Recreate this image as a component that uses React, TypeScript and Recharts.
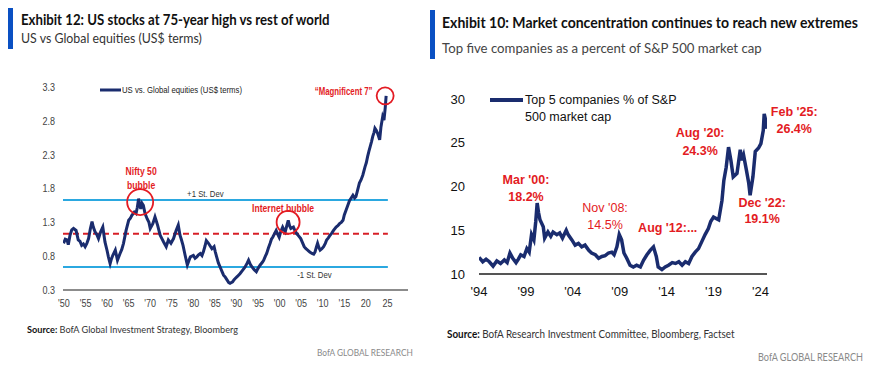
import React from "react";
import { Legend, Line, LineChart, ReferenceDot, ReferenceLine, XAxis, YAxis } from "recharts";

// Exhibit 12: US vs Global equities (US$ terms)
const usYears = [
    1949.9, 1950.3, 1950.7, 1951.0, 1951.4, 1951.8, 1952.2, 1952.8, 1953.3, 1953.7, 1954.1, 1954.5, 1954.9,
    1955.3, 1955.7, 1956.1, 1956.5, 1956.8, 1957.2, 1957.6, 1958.0, 1958.5, 1959.0, 1959.5, 1960.0, 1960.3,
    1960.7, 1961.0, 1961.3, 1961.9, 1962.4, 1963.0, 1963.4, 1963.8, 1964.4, 1965.0, 1965.4, 1965.7, 1966.3,
    1966.7, 1967.0, 1967.3, 1967.6, 1967.8, 1968.1, 1968.4, 1968.8, 1969.3, 1969.7, 1970.0, 1970.6, 1971.1,
    1971.4, 1971.7, 1972.3, 1972.7, 1973.1, 1973.7, 1974.2, 1974.8, 1975.4, 1976.0, 1976.5, 1976.9, 1977.2,
    1977.6, 1978.1, 1978.6, 1979.0, 1979.3, 1980.0, 1980.4, 1980.8, 1981.2, 1981.6, 1982.0, 1982.3, 1982.7,
    1983.0, 1983.5, 1983.9, 1984.3, 1984.8, 1985.1, 1985.4, 1985.8, 1986.2, 1986.6, 1987.0, 1987.4, 1987.8,
    1988.2, 1988.5, 1989.1, 1989.4, 1989.7, 1990.2, 1990.8, 1991.4, 1992.0, 1992.5, 1992.8, 1993.2, 1993.6,
    1994.1, 1994.6, 1995.0, 1995.5, 1996.0, 1996.3, 1996.7, 1997.0, 1997.4, 1997.8, 1998.1, 1998.4, 1998.8,
    1999.2, 1999.6, 1999.9, 2000.3, 2000.7, 2001.0, 2001.3, 2001.7, 2002.0, 2002.3, 2002.6, 2003.2, 2003.6,
    2004.0, 2004.4, 2004.9, 2005.3, 2005.7, 2006.1, 2006.5, 2007.0, 2007.5, 2007.9, 2008.2, 2008.5, 2008.8,
    2009.1, 2009.4, 2009.8, 2010.2, 2010.6, 2010.9, 2011.3, 2011.7, 2012.1, 2012.5, 2013.1, 2013.5, 2013.9,
    2014.3, 2014.7, 2015.0, 2015.4, 2015.8, 2016.2, 2016.6, 2017.0, 2017.4, 2017.7, 2018.1, 2018.5, 2018.9,
    2019.3, 2019.8, 2020.1, 2020.4, 2020.7, 2021.0, 2021.3, 2021.6, 2021.9, 2022.1, 2022.4, 2022.7, 2023.0,
    2023.2, 2023.5, 2023.9, 2024.2, 2024.5, 2024.7,
];
const usValues = [
    0.99, 1.05, 1.04, 0.97, 1.11, 1.19, 1.21, 1.18, 1.04, 1.02, 0.96, 0.98, 0.94,
    0.99, 1.06, 1.2, 1.31, 1.23, 1.16, 1.12, 1.06, 1.16, 1.23, 1.01, 0.88, 0.79,
    0.69, 0.76, 0.81, 0.89, 0.74, 0.84, 0.9, 0.99, 1.18, 1.33, 1.36, 1.4, 1.45,
    1.43, 1.52, 1.65, 1.55, 1.5, 1.58, 1.55, 1.43, 1.35, 1.3, 1.21, 1.28, 1.38,
    1.32, 1.26, 1.11, 1.06, 1.01, 0.94, 1.04, 0.99, 1.06, 1.18, 1.26, 1.11, 1.05,
    0.96, 0.81, 0.67, 0.74, 0.79, 0.81, 0.77, 0.79, 0.82, 0.84, 0.81, 0.86, 0.95,
    1.03, 0.99, 0.95, 0.91, 0.94, 0.86, 0.79, 0.7, 0.64, 0.58, 0.52, 0.49, 0.45,
    0.41, 0.4, 0.42, 0.45, 0.47, 0.5, 0.54, 0.59, 0.64, 0.7, 0.74, 0.68, 0.64,
    0.6, 0.57, 0.62, 0.67, 0.71, 0.74, 0.8, 0.84, 0.92, 0.99, 1.05, 1.08, 1.13,
    1.18, 1.12, 1.08, 1.17, 1.23, 1.19, 1.16, 1.26, 1.33, 1.25, 1.21, 1.23, 1.17,
    1.13, 1.1, 1.06, 1.0, 0.94, 0.91, 0.89, 0.86, 0.84, 0.83, 0.86, 0.93, 0.99,
    0.93, 0.89, 0.91, 0.94, 0.99, 1.04, 1.07, 1.11, 1.14, 1.18, 1.23, 1.25, 1.28,
    1.3, 1.33, 1.41, 1.48, 1.55, 1.62, 1.66, 1.7, 1.66, 1.68, 1.78, 1.88, 1.93,
    2.0, 2.12, 2.18, 2.27, 2.35, 2.42, 2.49, 2.57, 2.63, 2.69, 2.66, 2.62, 2.56,
    2.52, 2.71, 2.86, 2.81, 3.0, 3.17,
];
const usXTicks = [1950, 1955, 1960, 1965, 1970, 1975, 1980, 1985, 1990, 1995, 2000, 2005, 2010, 2015, 2020, 2025];
const usXTickLabels = ["'50", "'55", "'60", "'65", "'70", "'75", "'80", "'85", "'90", "'95", "'00", "'05", "'10", "'15", "20", "25"];
const usYTicks = [0.3, 0.8, 1.3, 1.8, 2.3, 2.8, 3.3];
const usPlusOneSd = 1.63;
const usAverage = 1.13;
const usMinusOneSd = 0.64;

// Exhibit 10: top 5 companies as % of S&P 500 market cap
const top5Years = [
    1994.0, 1994.4, 1994.75, 1995.1, 1995.5, 1995.9, 1996.3, 1996.7, 1997.0, 1997.3, 1997.6, 1997.95, 1998.2,
    1998.45, 1998.8, 1999.1, 1999.35, 1999.6, 1999.85, 2000.05, 2000.2, 2000.35, 2000.5, 2000.85, 2001.0,
    2001.35, 2001.65, 2001.9, 2002.3, 2002.6, 2002.9, 2003.3, 2003.5, 2003.9, 2004.25, 2004.6, 2004.95, 2005.3,
    2005.7, 2006.0, 2006.4, 2006.75, 2007.1, 2007.45, 2007.8, 2008.15, 2008.4, 2008.7, 2008.95, 2009.2, 2009.45,
    2009.75, 2010.1, 2010.45, 2010.8, 2011.2, 2011.55, 2011.9, 2012.25, 2012.6, 2012.9, 2013.1, 2013.5, 2013.85,
    2014.2, 2014.6, 2014.95, 2015.3, 2015.65, 2016.0, 2016.35, 2016.7, 2017.05, 2017.4, 2017.75, 2018.1, 2018.45,
    2018.7, 2019.0, 2019.55, 2019.9, 2020.1, 2020.35, 2020.6, 2020.85, 2021.1, 2021.5, 2021.85, 2022.0, 2022.2,
    2022.5, 2022.75, 2022.9, 2023.2, 2023.45, 2023.8, 2024.05, 2024.3, 2024.4, 2024.55, 2024.7,
];
const top5Values = [
    11.9, 11.4, 11.7, 11.4, 10.9, 11.5, 11.2, 11.6, 11.3, 12.4, 11.8, 11.3, 11.7,
    12.2, 12.0, 12.9, 12.5, 14.5, 13.9, 16.0, 18.1, 17.0, 16.2, 15.4, 14.1,
    14.8, 14.3, 14.8, 14.5, 14.7, 14.1, 15.0, 14.5, 13.9, 13.3, 13.5, 13.1, 13.3,
    12.7, 12.4, 12.2, 11.8, 12.0, 12.1, 12.4, 12.5, 12.2, 13.1, 14.5, 13.9, 12.4,
    11.8, 11.0, 10.8, 11.0, 10.8, 11.6, 12.2, 12.7, 13.1, 12.0, 10.8, 10.5, 10.8,
    11.0, 11.3, 11.2, 11.4, 11.0, 11.4, 11.2, 12.0, 12.5, 12.9, 13.7, 14.5, 15.2,
    16.0, 16.5, 16.2, 18.4, 20.7, 22.2, 24.5, 23.0, 21.1, 21.5, 24.2, 23.0, 23.6,
    21.9, 20.4, 19.0, 21.1, 24.0, 24.4, 24.9, 26.4, 28.3, 27.6, 26.6,
];
const top5XTicks = [1994, 1999, 2004, 2009, 2014, 2019, 2024];
const top5XTickLabels = ["'94", "'99", "'04", "'09", "'14", "'19", "'24"];
const top5YTicks = [10, 15, 20, 25, 30];

const NAVY = "#1a2c6e";
const RED = "#e31b23";
const SKY = "#2ba8e0";
const BOFA_BLUE = "#0a50c3";
const SANS = '"Liberation Sans", Arial, sans-serif';
const BOFA_FONT = 'Lato, "Open Sans", sans-serif';
// the left exhibit uses a narrow face; squeeze Liberation Sans to get it
const NARROW_SCALE = 0.82;

const usData = usYears.map((year, i) => ({ year, value: usValues[i] }));
const top5Data = top5Years.map((year, i) => ({ year, value: top5Values[i] }));

// svg text stretched/squeezed to a measured width
function FitText({ x, y, width, children, ...rest }: any) {
    const ref = React.useRef<SVGTextElement>(null);
    const [sx, setSx] = React.useState(1);

    React.useLayoutEffect(() => {
        if (ref.current) {
            const natural = ref.current.getComputedTextLength();
            if (natural > 0) setSx(width / natural);
        }
    }, [width]);

    return (
        <text ref={ref} x={0} y={0} transform={`translate(${x} ${y}) scale(${sx} 1)`} {...rest}>
            {children}
        </text>
    );
}

// text block drawn at a ReferenceDot's data position
function noteShape(lines: string[], opts: { size: number; color: string; weight?: number; anchor?: "start" | "middle"; lineHeight?: number; squeeze?: number }) {
    return (props: any) => (
        <g transform={`translate(${props.cx} ${props.cy}) scale(${opts.squeeze ?? 1} 1)`}>
            <text
                x={0}
                y={0}
                fill={opts.color}
                fontSize={opts.size}
                fontWeight={opts.weight ?? 700}
                fontFamily={SANS}
                textAnchor={opts.anchor ?? "middle"}
                dominantBaseline="central"
            >
                {lines.map((line, i) => (
                    <tspan key={i} x={0} dy={i === 0 ? 0 : opts.lineHeight ?? 14}>{line}</tspan>
                ))}
            </text>
        </g>
    );
}

function NarrowTick({ x, y, payload, anchor, dy, labels, ticks }: any) {
    const idx = ticks ? ticks.indexOf(payload.value) : -1;
    const label = idx >= 0 ? labels[idx] : Number(payload.value).toFixed(1);
    return (
        <g transform={`translate(${x} ${y}) scale(${NARROW_SCALE} 1)`}>
            <text x={0} y={0} dy={dy} textAnchor={anchor} fill="#444" fontSize={11} fontFamily={SANS}>
                {label}
            </text>
        </g>
    );
}

function UsVsGlobalChart() {
    return (
        <LineChart width={430} height={373} data={usData} margin={{ top: 87, right: 22, bottom: 53, left: 0 }}>
            <XAxis
                dataKey="year"
                type="number"
                domain={[1949.77, 2029.77]}
                ticks={usXTicks}
                tick={<NarrowTick anchor="middle" dy="0.71em" labels={usXTickLabels} ticks={usXTicks} />}
                tickLine={false}
                tickMargin={3}
                axisLine={{ stroke: "#8c8c8c", strokeWidth: 2 }}
                height={30}
                interval={0}
                allowDataOverflow
            />
            <YAxis
                type="number"
                domain={[0.3, 3.3]}
                ticks={usYTicks}
                tick={<NarrowTick anchor="end" dy="0.355em" />}
                tickLine={false}
                axisLine={false}
                width={63}
                interval={0}
            />
            <Legend
                layout="horizontal"
                verticalAlign="middle"
                align="center"
                wrapperStyle={{ position: "absolute", left: 100, top: 85, width: "auto" }}
                content={() => (
                    <div style={{ display: "flex", alignItems: "center", fontFamily: SANS, fontSize: 9, color: "#222", whiteSpace: "nowrap" }}>
                        <svg width={21} height={4}><line x1={0} y1={2} x2={21} y2={2} stroke={NAVY} strokeWidth={3} /></svg>
                        <span style={{ marginLeft: 1, display: "inline-block", transform: "scaleX(0.86)", transformOrigin: "left center" }}>
                            US vs. Global equities (US$ terms)
                        </span>
                    </div>
                )}
            />
            <ReferenceLine segment={[{ x: 1949.77, y: usPlusOneSd }, { x: 2025.1, y: usPlusOneSd }]} stroke={SKY} strokeWidth={2} />
            <ReferenceLine segment={[{ x: 1949.77, y: usMinusOneSd }, { x: 2025.1, y: usMinusOneSd }]} stroke={SKY} strokeWidth={2} />
            <ReferenceLine segment={[{ x: 1949.77, y: usAverage }, { x: 2025.1, y: usAverage }]} stroke="#d71f27" strokeWidth={2} strokeDasharray="6 4" />
            <Line
                type="linear"
                dataKey="value"
                stroke={NAVY}
                strokeWidth={3}
                dot={false}
                isAnimationActive={false}
            />
            {/* circled episodes and their notes */}
            <ReferenceDot x={1967.66} y={1.6} r={13} fill="none" stroke={RED} strokeWidth={1.8} ifOverflow="visible" />
            <ReferenceDot x={2001.97} y={1.3} r={11.5} fill="none" stroke={RED} strokeWidth={1.8} ifOverflow="visible" />
            <ReferenceDot x={2024.47} y={3.17} r={8.5} fill="none" stroke={RED} strokeWidth={1.8} ifOverflow="visible" />
            <ReferenceDot x={1967.89} y={2.07} r={0} ifOverflow="visible" shape={noteShape(["Nifty 50", "bubble"], { size: 10.5, color: RED, lineHeight: 14, squeeze: NARROW_SCALE })} />
            <ReferenceDot x={2000.8} y={1.51} r={0} ifOverflow="visible" shape={noteShape(["Internet bubble"], { size: 10.5, color: RED, squeeze: NARROW_SCALE })} />
            <ReferenceDot x={2014.84} y={3.23} r={0} ifOverflow="visible" shape={noteShape(["\u201CMagnificent 7\u201D"], { size: 10, color: RED, squeeze: 0.78 })} />
            <ReferenceDot x={1978.55} y={1.73} r={0} ifOverflow="visible" shape={noteShape(["+1 St. Dev"], { size: 9.5, color: "#333", weight: 400, anchor: "start", squeeze: NARROW_SCALE })} />
            <ReferenceDot x={2004.06} y={0.52} r={0} ifOverflow="visible" shape={noteShape(["-1 St. Dev"], { size: 9.5, color: "#333", weight: 400, anchor: "start", squeeze: NARROW_SCALE })} />
        </LineChart>
    );
}

function ConcentrationChart() {
    return (
        <LineChart width={447} height={373} data={top5Data} margin={{ top: 99, right: 110, bottom: 69, left: 0 }}>
            <XAxis
                dataKey="year"
                type="number"
                domain={[1994, 2024.7]}
                ticks={top5XTicks}
                tickFormatter={(v) => top5XTickLabels[top5XTicks.indexOf(v)] ?? ""}
                tick={{ fill: "#111", fontSize: 13, fontFamily: SANS }}
                tickLine={false}
                tickMargin={7}
                axisLine={{ stroke: "#555", strokeWidth: 2 }}
                height={30}
                interval={0}
                allowDataOverflow
            />
            <YAxis
                type="number"
                domain={[10, 30]}
                ticks={top5YTicks}
                tick={{ fill: "#111", fontSize: 13, fontFamily: SANS }}
                tickLine={false}
                tickMargin={8}
                axisLine={false}
                width={49}
                interval={0}
            />
            <Legend
                layout="horizontal"
                verticalAlign="middle"
                align="center"
                wrapperStyle={{ position: "absolute", left: 60, top: 92, width: "auto" }}
                content={() => (
                    <div style={{ display: "flex", alignItems: "flex-start", fontFamily: SANS, fontSize: 12.5, color: "#111", lineHeight: "17px", whiteSpace: "nowrap" }}>
                        <svg width={33} height={17} style={{ flexShrink: 0 }}><line x1={0} y1={8} x2={33} y2={8} stroke={NAVY} strokeWidth={4} /></svg>
                        <span style={{ marginLeft: 2 }}>Top 5 companies % of S&amp;P<br />500 market cap</span>
                    </div>
                )}
            />
            <Line
                type="linear"
                dataKey="value"
                stroke={NAVY}
                strokeWidth={3.5}
                dot={false}
                isAnimationActive={false}
            />
            <ReferenceDot x={1999.01} y={20.73} r={0} ifOverflow="visible" shape={noteShape(["Mar '00:", "18.2%"], { size: 12.5, color: RED, lineHeight: 17 })} />
            <ReferenceDot x={2007.44} y={17.53} r={0} ifOverflow="visible" shape={noteShape(["Nov '08:", "14.5%"], { size: 12.5, color: RED, weight: 400, lineHeight: 17 })} />
            <ReferenceDot x={2010.96} y={15.25} r={0} ifOverflow="visible" shape={noteShape(["Aug '12:..."], { size: 12.5, color: RED, anchor: "start" })} />
            <ReferenceDot x={2017.57} y={26.1} r={0} ifOverflow="visible" shape={noteShape(["Aug '20:", "24.3%"], { size: 12.5, color: RED, lineHeight: 18 })} />
            <ReferenceDot x={2027.6} y={28.5} r={0} ifOverflow="visible" shape={noteShape(["Feb '25:", "26.4%"], { size: 12.5, color: RED, lineHeight: 17 })} />
            <ReferenceDot x={2024.18} y={18.1} r={0} ifOverflow="visible" shape={noteShape(["Dec '22:", "19.1%"], { size: 12.5, color: RED, lineHeight: 16 })} />
        </LineChart>
    );
}

// titles, sources and footers around the two exhibits
function Frame() {
    return (
        <svg width={877} height={373} style={{ position: "absolute", left: 0, top: 0, pointerEvents: "none" }}>
            <rect x={8} y={8} width={5} height={41} fill={BOFA_BLUE} />
            <FitText x={21} y={25} width={309} fontFamily={BOFA_FONT} fontWeight={700} fontSize={16} fill="#111">
                Exhibit 12: US stocks at 75-year high vs rest of world
            </FitText>
            <FitText x={21} y={43} width={181} fontFamily={BOFA_FONT} fontSize={14} fill="#333">
                US vs Global equities (US$ terms)
            </FitText>
            <FitText x={27} y={333} width={211} fontFamily={BOFA_FONT} fontSize={10} fill="#333">
                <tspan fontWeight={700} fill="#111">Source:</tspan> BofA Global Investment Strategy, Bloomberg
            </FitText>
            <FitText x={317} y={356} width={96} fontFamily={BOFA_FONT} fontSize={10} fill="#8a8a8a">
                BofA GLOBAL RESEARCH
            </FitText>

            <rect x={430} y={10} width={5} height={49} fill={BOFA_BLUE} />
            <FitText x={442} y={28} width={416} fontFamily={BOFA_FONT} fontWeight={700} fontSize={16} fill="#111">
                Exhibit 10: Market concentration continues to reach new extremes
            </FitText>
            <FitText x={442} y={53} width={320} fontFamily={BOFA_FONT} fontSize={14} fill="#444">
                Top five companies as a percent of S&amp;P 500 market cap
            </FitText>
            <FitText x={447} y={338} width={288} fontFamily={BOFA_FONT} fontSize={10.5} fill="#333">
                <tspan fontWeight={700} fill="#111">Source:</tspan> BofA Research Investment Committee, Bloomberg, Factset
            </FitText>
            <FitText x={758} y={361} width={105} fontFamily={BOFA_FONT} fontSize={10.5} fill="#8a8a8a">
                BofA GLOBAL RESEARCH
            </FitText>
        </svg>
    );
}

export default function App() {
    return (
        <div style={{ position: "absolute", left: 0, top: 0, width: 877, height: 373, background: "#fff", overflow: "hidden" }}>
            <div style={{ position: "absolute", left: 0, top: 0 }}>
                <UsVsGlobalChart />
            </div>
            <div style={{ position: "absolute", left: 430, top: 0 }}>
                <ConcentrationChart />
            </div>
            <Frame />
        </div>
    );
}
